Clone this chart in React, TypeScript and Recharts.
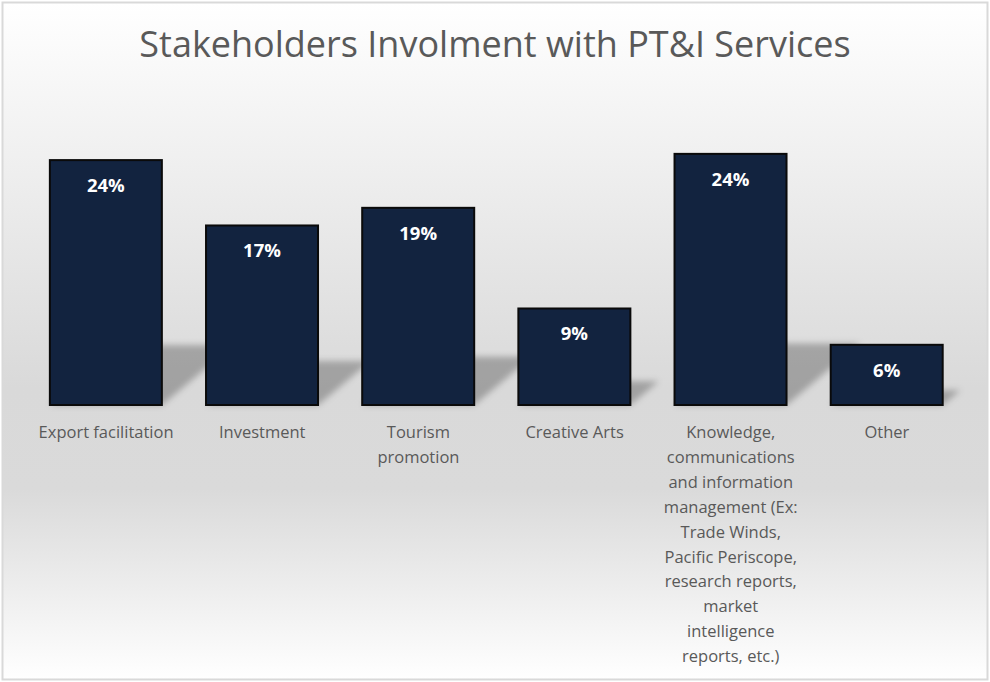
import React from 'react';
import { BarChart, Bar, XAxis, YAxis, LabelList } from 'recharts';

const categories = [
  'Export facilitation',
  'Investment',
  'Tourism\npromotion',
  'Creative Arts',
  'Knowledge,\ncommunications\nand information\nmanagement (Ex:\nTrade Winds,\nPacific Periscope,\nresearch reports,\nmarket\nintelligence\nreports, etc.)',
  'Other',
];
const shares = [23.6, 17.3, 19.0, 9.3, 24.2, 5.8];

const data = categories.map((name, i) => ({ name, value: shares[i] }));

const FONT = '"Open Sans", "Liberation Sans", sans-serif';

const WrappedTick = (props: any) => {
  const { x, y, payload } = props;
  const lines = String(payload.value).split('\n');
  return (
    <g transform={`translate(${x},${y})`}>
      <text textAnchor="middle" fill="#595959" fontSize={16.5} fontFamily={FONT}>
        {lines.map((line, i) => (
          <tspan key={i} x={0} y={i * 24.9 + 25}>{line}</tspan>
        ))}
      </text>
    </g>
  );
};

const ValueLabel = (props: any) => {
  const { x, y, width, value } = props;
  return (
    <text x={x + width / 2} y={y + 32} textAnchor="middle" fill="#ffffff" fontSize={18.5} fontWeight="bold" fontFamily={FONT}>
      {Math.round(value)}%
    </text>
  );
};

// bar with a perspective shadow cast up and to the right
const ShadowBar = (props: any) => {
  const { x, y, width, height, fill, stroke } = props;
  const base = y + height;
  const sh = height * 0.245;
  const shift = sh * 1.2;
  const pts = [
    [x, base],
    [x + width, base],
    [x + width + shift, base - sh],
    [x + shift, base - sh],
  ].map((p) => p.join(',')).join(' ');
  return (
    <g>
      <polygon points={pts} fill="#000" fillOpacity={0.26} filter="url(#blur)" />
      <rect x={x} y={y} width={width} height={height} fill={fill} stroke={stroke} strokeWidth={2} />
    </g>
  );
};

export default function App() {
  return (
    <div style={{ position: 'fixed', left: 0, top: 0, width: 990, height: 682 }}>
      <svg width={990} height={682} style={{ position: 'absolute', left: 0, top: 0 }}>
        <defs>
          <linearGradient id="bg" x1="0" y1="0" x2="0" y2="1">
            <stop offset="0" stopColor="#ffffff" />
            <stop offset="0.57" stopColor="#d9d9d9" />
            <stop offset="0.72" stopColor="#dadada" />
            <stop offset="1" stopColor="#ffffff" />
          </linearGradient>
        </defs>
        <rect x={2.5} y={2.5} width={985} height={677} fill="url(#bg)" stroke="#d9d9d9" strokeWidth={2} />
        <text x={495} y={57} textAnchor="middle" fill="#595959" fontSize={36} fontFamily={FONT}>
          Stakeholders Involment with PT&amp;I Services
        </text>
      </svg>
      <div style={{ position: 'absolute', left: 0, top: 0 }}>
        <BarChart
          width={990}
          height={682}
          data={data}
          margin={{ top: 130, right: 25, left: 28, bottom: 267 }}
          barCategoryGap="14%"
        >
          <defs>
            <filter id="blur" x="-20%" y="-50%" width="140%" height="200%">
              <feGaussianBlur stdDeviation="3" />
            </filter>
          </defs>
          <XAxis
            dataKey="name"
            axisLine={false}
            tickLine={false}
            interval={0}
            tick={<WrappedTick />}
            height={10}
          />
          <YAxis hide domain={[0, 26.5]} />
          <Bar dataKey="value" fill="#12233f" stroke="#0a0a0a" shape={<ShadowBar />} isAnimationActive={false}>
            <LabelList dataKey="value" content={<ValueLabel />} />
          </Bar>
        </BarChart>
      </div>
    </div>
  );
}
